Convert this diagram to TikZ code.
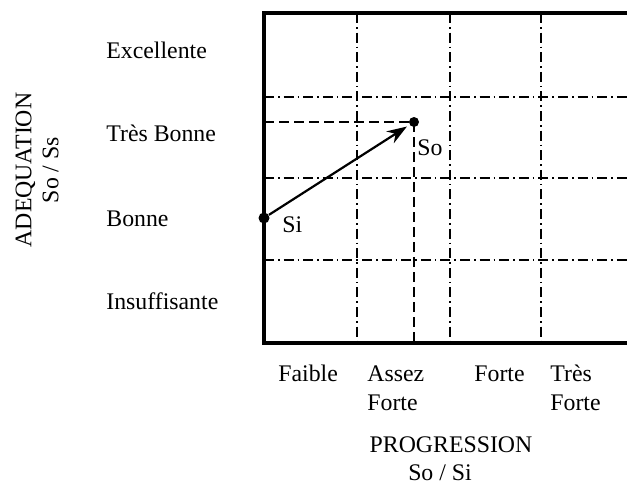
\documentclass[tikz,border=0pt]{standalone}
\usepackage{fontspec}
\setmainfont{Liberation Serif}
\usetikzlibrary{arrows.meta}
\tikzset{
  axisframe/.style={draw=black, line width=1.8pt},
  gridline/.style={draw=black, line width=0.65pt, dash pattern=on 5pt off 2pt on 0.8pt off 2pt},
  guide/.style={draw=black, line width=0.9pt, dash pattern=on 5pt off 2.5pt},
  vec/.style={draw=black, line width=1.1pt, -{Stealth[length=10pt, width=7pt]}, shorten >=1.5pt},
  state/.style={circle, fill=black, inner sep=0pt, minimum size=5.5pt},
  % libelles
  lvl/.style={font=\fontsize{11.9}{14.5}\selectfont, inner sep=0pt, align=left},
  ttl/.style={font=\fontsize{11.9}{13.5}\selectfont, inner sep=0pt, align=center}
}

\begin{document}
\begin{tikzpicture}[x=0.5pt, y=-0.5pt]
  \useasboundingbox (0,0) rectangle (627,483);
  \def\xl{264}\def\xr{627}\def\yt{13}\def\yb{343}
  % grille
  \foreach \x in {357,450,541}
    \draw[gridline] (\x,\yt) -- (\x,\yb);
  \foreach \y in {97,178,260}
    \draw[gridline] (\xl,\y) -- (\xr,\y);
  \draw[axisframe] (\xr,\yt) -- (\xl,\yt) -- (\xl,\yb) -- (\xr,\yb);
  % niveaux d'adequation
  \foreach \y/\name/\txt in {58/exc/Excellente, 141/tbo/Très Bonne, 226/bon/Bonne, 309/ins/Insuffisante}
    \node[lvl, anchor=base west] (\name) at (106,\y) {\txt};
  % niveaux de progression (base = derniere ligne)
  \foreach \x/\y/\name/\txt in {278/381/fai/Faible, 367/410/asf/{Assez\\Forte}, 474/381/frt/Forte, 550/410/trf/{Très\\Forte}}
    \node[lvl, anchor=base west] (\name) at (\x,\y) {\txt};
  \node[ttl, rotate=90] (adeq) at (37,170) {ADEQUATION\\So / Ss};
  \node[ttl, anchor=base] (prog) at (451,452) {PROGRESSION};
  \node[ttl, anchor=base] (progunit) at (440,480) {So / Si};
  % situations
  \node[state] (si) at (\xl,218) {};
  \node[state, minimum size=5pt] (so) at (414,122) {};
  \coordinate (soy) at (\xl,122);
  \coordinate (sox) at (414,\yb);
  \draw[guide] (soy) -- (so.center);
  \draw[guide] (so.center) -- (sox);
  \draw[vec] (si) -- (so);
  \node[lvl, anchor=base west] (silbl) at (282,232) {Si};
  \node[lvl, anchor=base west] (solbl) at (417,155) {So};
\end{tikzpicture}
\end{document}
